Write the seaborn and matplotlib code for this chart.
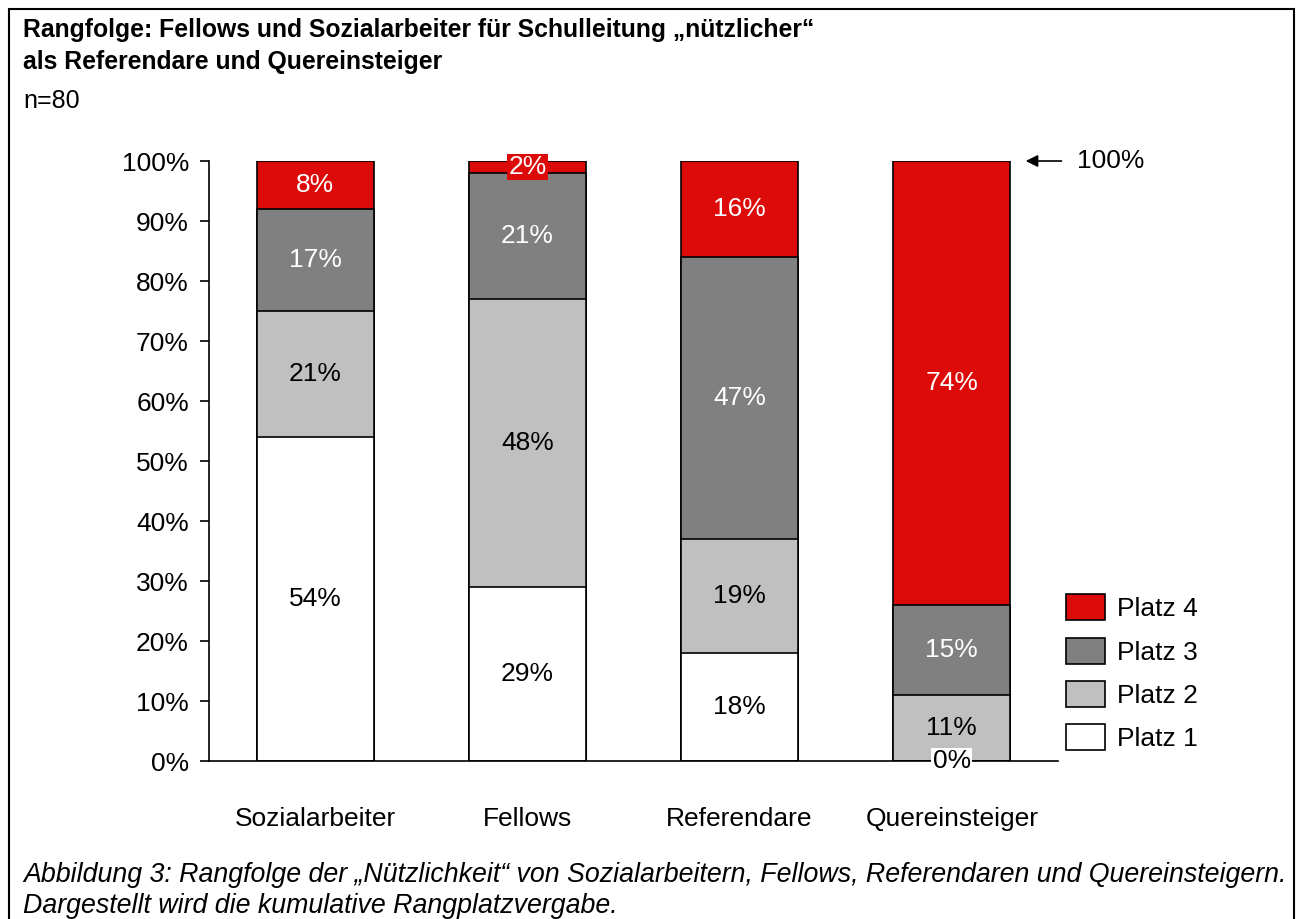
import numpy as np
import pandas as pd
import matplotlib
matplotlib.use("Agg")
import matplotlib.pyplot as plt
from matplotlib.patches import Patch, Rectangle
import seaborn as sns

# data (percent per rank)
groups = ["Sozialarbeiter", "Fellows", "Referendare", "Quereinsteiger"]
platz1 = [54, 29, 18, 0]
platz2 = [21, 48, 19, 11]
platz3 = [17, 21, 47, 15]
platz4 = [8, 2, 16, 74]
ranks = ["Platz 1", "Platz 2", "Platz 3", "Platz 4"]
yticks = [0, 10, 20, 30, 40, 50, 60, 70, 80, 90, 100]

colors = {"Platz 1": "#FFFFFF", "Platz 2": "#C0C0C0", "Platz 3": "#808080", "Platz 4": "#DD0A0A"}
txt_colors = {"Platz 1": "black", "Platz 2": "black", "Platz 3": "white", "Platz 4": "white"}

sns.set_style("white")
plt.rcParams["font.family"] = ["Liberation Sans", "DejaVu Sans"]
plt.rcParams["text.color"] = "black"
plt.rcParams["xtick.color"] = "black"
plt.rcParams["ytick.color"] = "black"
plt.rcParams["axes.edgecolor"] = "black"

FS = 19

df = pd.DataFrame({"gruppe": groups, "Platz 1": platz1, "Platz 2": platz2,
                   "Platz 3": platz3, "Platz 4": platz4})
vals = df[ranks].to_numpy()
cum = np.cumsum(vals, axis=1)

fig = plt.figure(figsize=(13, 9.19), dpi=100)
ax = fig.add_axes([0.1608, 0.1719, 0.6530, 0.6529])

# cumulative bars drawn from top rank down so each covers the next
for i in range(3, -1, -1):
    d = pd.DataFrame({"gruppe": groups, "wert": cum[:, i]})
    sns.barplot(data=d, x="gruppe", y="wert", color=colors[ranks[i]],
                saturation=1, width=0.55, edgecolor="black", linewidth=1.2, ax=ax)

# segment labels
for g in range(len(groups)):
    for i in range(4):
        v = vals[g, i]
        mid = cum[g, i] - v / 2
        kw = {}
        if v == 0:
            kw["bbox"] = dict(facecolor="white", edgecolor="none", pad=1)
            c = "black"
        elif v <= 3:
            kw["bbox"] = dict(facecolor=colors[ranks[i]], edgecolor="none", pad=1)
            c = txt_colors[ranks[i]]
        else:
            c = txt_colors[ranks[i]]
        ax.text(g, mid, f"{v}%", ha="center", va="center", fontsize=FS, color=c,
                zorder=10, **kw)

ax.set_xlim(-0.5, 3.5)
ax.set_ylim(0, 100)
ax.set_yticks(yticks)
ax.set_yticklabels([f"{t}%" for t in yticks])
ax.set_xlabel("")
ax.set_ylabel("")
sns.despine(ax=ax)
ax.spines["left"].set_linewidth(1.2)
ax.spines["bottom"].set_linewidth(1.2)
ax.tick_params(axis="y", direction="out", length=6.5, width=1.2, pad=8, labelsize=FS, left=True)
ax.tick_params(axis="x", length=0, pad=33, labelsize=FS)

# 100% marker
ax.annotate("", xy=(3.335, 100), xytext=(3.53, 100), xycoords="data",
            arrowprops=dict(arrowstyle="-|>", color="black", lw=1.2, mutation_scale=18),
            annotation_clip=False)
ax.text(3.59, 100, "100%", ha="left", va="center", fontsize=FS, clip_on=False)

# legend
handles = [Patch(facecolor=colors[r], edgecolor="black", linewidth=1.2, label=r)
           for r in ranks[::-1]]
fig.legend(handles=handles, loc="upper left", bbox_to_anchor=(0.812, 0.365),
           frameon=False, fontsize=FS, handlelength=1.48, handleheight=1.15,
           labelspacing=0.62, handletextpad=0.45, borderaxespad=0)

# titles and caption
x0 = 0.0177
fig.text(x0, 0.9597, "Rangfolge: Fellows und Sozialarbeiter für Schulleitung „nützlicher“",
         fontsize=17.8, fontweight="bold", va="baseline")
fig.text(x0, 0.9249, "als Referendare und Quereinsteiger",
         fontsize=17.8, fontweight="bold", va="baseline")
fig.text(x0, 0.8825, "n=80", fontsize=18, va="baseline")
fig.text(x0, 0.040,
         "Abbildung 3: Rangfolge der „Nützlichkeit“ von Sozialarbeitern, Fellows, Referendaren und Quereinsteigern.",
         fontsize=19.3, style="italic", va="baseline")
fig.text(x0, 0.007, "Dargestellt wird die kumulative Rangplatzvergabe.",
         fontsize=19.3, style="italic", va="baseline")

# outer frame
fig.patches.append(Rectangle((9 / 1300, -0.01), 1285 / 1300, 1.01 - 9 / 919,
                             transform=fig.transFigure,
                             fill=False, edgecolor="black", linewidth=1.5))

fig.savefig("out.png", dpi=100)
